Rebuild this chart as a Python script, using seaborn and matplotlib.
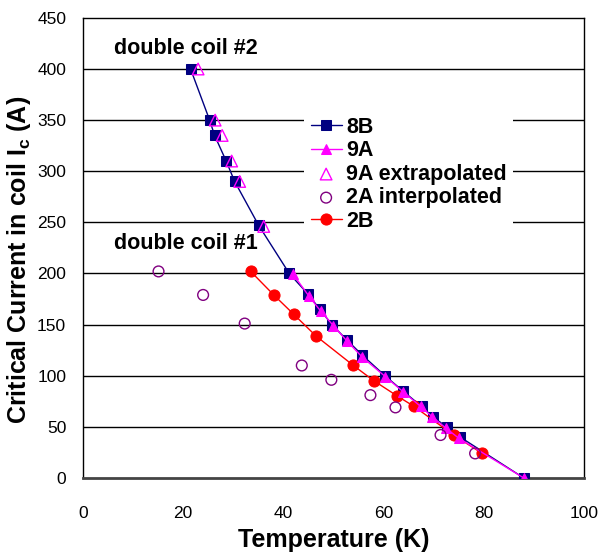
import matplotlib
matplotlib.use("Agg")
import matplotlib.pyplot as plt
import seaborn as sns

# ---- data ----
t_8b = [21.5, 25.3, 26.3, 28.6, 30.3, 35.1, 41.2, 44.9, 47.3, 49.7, 52.7, 55.8, 60.3, 63.9, 67.6, 69.8, 72.6, 75.3, 88.0]
i_8b = [400, 350, 335, 310, 290, 247, 200, 180, 165, 150, 135, 120, 100, 85, 70, 60, 50, 40, 0]

t_9a = [42.0, 45.1, 47.5, 50.0, 52.7, 55.8, 60.4, 64.0, 67.4, 69.7, 72.4, 75.0, 88.0]
i_9a = [199, 178, 163, 149, 134, 118, 99, 84, 70, 60, 49, 39, 0]

t_9a_ext = [23.0, 26.4, 27.8, 29.7, 31.3, 36.1]
i_9a_ext = [400, 350, 335, 310, 290, 246]

t_2a_int = [15.1, 24.0, 32.3, 43.7, 49.6, 57.4, 62.4, 71.4, 78.3]
i_2a_int = [202, 179, 151, 110, 96, 81, 69, 42, 24]

t_2b = [33.5, 38.1, 42.1, 46.5, 54.0, 58.1, 62.8, 66.1, 74.0, 79.7]
i_2b = [202, 179, 160, 139, 110, 95, 80, 70, 42, 24]

x_ticks = [0, 20, 40, 60, 80, 100]
y_ticks = [0, 50, 100, 150, 200, 250, 300, 350, 400, 450]

sns.set_style("white")
plt.rcParams['font.family'] = ['Liberation Sans', 'DejaVu Sans']
plt.rcParams['mathtext.fontset'] = 'custom'
plt.rcParams['mathtext.bf'] = 'Liberation Sans:bold'
plt.rcParams['mathtext.rm'] = 'Liberation Sans:bold'
plt.rcParams['mathtext.default'] = 'bf'
plt.rcParams['text.color'] = 'black'
plt.rcParams['axes.labelcolor'] = 'black'
plt.rcParams['xtick.color'] = 'black'
plt.rcParams['ytick.color'] = 'black'

fig = plt.figure(figsize=(6.05, 5.59), dpi=100)
ax = fig.add_axes([0.137, 0.145, 0.828, 0.823])

for y in y_ticks[1:-1]:
    ax.axhline(y, color='black', lw=1.0, zorder=0)

sns.lineplot(x=t_8b, y=i_8b, ax=ax, sort=False, color='#000080', lw=1.0,
             marker='s', markersize=6.5, markeredgecolor='#000080', markerfacecolor='#000080',
             label='8B', zorder=3)
sns.lineplot(x=t_9a, y=i_9a, ax=ax, sort=False, color='#FF00FF', lw=1.0,
             marker='^', markersize=7.5, markeredgecolor='#FF00FF', markerfacecolor='#FF00FF',
             label='9A', zorder=4)
sns.scatterplot(x=t_9a_ext, y=i_9a_ext, ax=ax, marker='^', s=70, facecolor='none',
                edgecolor='#FF00FF', linewidth=1.0, label='9A extrapolated', zorder=4)
sns.scatterplot(x=t_2a_int, y=i_2a_int, ax=ax, marker='o', s=60, facecolor='none',
                edgecolor='#800080', linewidth=1.0, label='2A interpolated', zorder=4)
sns.lineplot(x=t_2b, y=i_2b, ax=ax, sort=False, color='#FF0000', lw=1.0,
             marker='o', markersize=8, markeredgecolor='#FF0000', markerfacecolor='#FF0000',
             label='2B', zorder=3)

ax.set_xlim(0, 100)
ax.set_ylim(0, 450)
ax.set_xticks(x_ticks)
ax.set_yticks(y_ticks)
ax.tick_params(axis='both', labelsize=12.5, direction='out', length=5, width=1)
ax.tick_params(axis='x', pad=15, color='#555555')
ax.tick_params(axis='y', pad=7, color='#555555')
for s in ['top', 'right', 'left']:
    ax.spines[s].set_visible(True)
    ax.spines[s].set_color('black')
    ax.spines[s].set_linewidth(1.0)
ax.spines['bottom'].set_color('#444444')
ax.spines['bottom'].set_linewidth(2)

ax.set_xlabel('Temperature (K)', fontsize=18, fontweight='bold', labelpad=5)
ax.set_ylabel(r'Critical Current in coil I$_{c}$ (A)', fontsize=18, fontweight='bold')
ax.yaxis.set_label_coords(-0.100, 0.474)

ax.text(6.3, 420, 'double coil #2', fontsize=15.5, fontweight='bold', va='center')
ax.text(6.3, 229, 'double coil #1', fontsize=15.5, fontweight='bold', va='center')

leg = ax.legend(loc='upper left', bbox_to_anchor=(0.42, 0.823), frameon=True,
                prop={'weight': 'bold', 'size': 15.5}, handlelength=1.45, handletextpad=0.2,
                labelspacing=0.12, borderpad=0.3)
leg.get_frame().set_edgecolor('none')
leg.get_frame().set_facecolor('white')
leg.get_frame().set_alpha(1)

fig.savefig('out.png', dpi=100)
